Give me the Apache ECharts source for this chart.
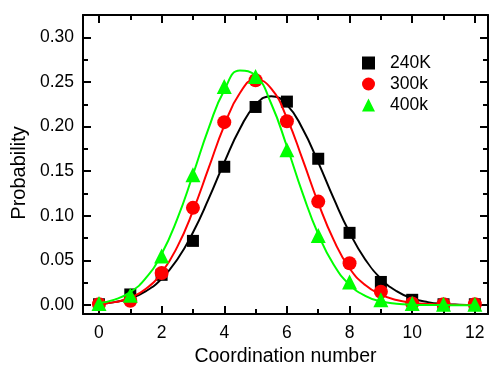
<!DOCTYPE html>
<html><head><meta charset="utf-8">
<script src="https://cdn.jsdelivr.net/npm/echarts@6/dist/echarts.min.js"></script>
<style>html,body{margin:0;padding:0;background:#fff}#c{width:489px;height:372px}</style>
</head><body><div id="c"></div>
<script>
// ---- data ----
const coordination = [0,1,2,3,4,5,6,7,8,9,10,11,12];
const p240 = [0.001,0.012,0.034,0.072,0.155,0.222,0.228,0.164,0.081,0.026,0.006,0.001,0.001];
const p300 = [0.001,0.005,0.036,0.109,0.205,0.252,0.206,0.116,0.047,0.015,0.002,0.001,0.001];
const p400 = [0.002,0.011,0.055,0.146,0.245,0.256,0.174,0.078,0.026,0.006,0.002,0.001,0.001];
// fitted curves, read at half-unit steps
const fitX = [0,0.5,1,1.5,2,2.5,3,3.5,4,4.5,5,5.5,6,6.5,7,7.5,8,8.5,9,9.5,10,10.5,11,11.5,12];
const fit240 = [0.0014,0.0034,0.0077,0.0157,0.0296,0.0512,0.0814,0.119,0.160,0.1976,0.2243,0.234,0.2243,0.1976,0.160,0.119,0.0814,0.0512,0.0296,0.0157,0.0077,0.0034,0.0014,0.0005,0.0002];
const fit300 = [0.0013,0.0034,0.0083,0.0183,0.0364,0.0653,0.1055,0.1534,0.2011,0.2376,0.2528,0.2425,0.2096,0.1633,0.1146,0.0725,0.0413,0.0225,0.0118,0.0058,0.0028,0.0013,0.0006,0.0003,0.0001];
const fit400 = [0.0024,0.0062,0.0146,0.0305,0.0574,0.0967,0.1461,0.198,0.2408,0.2627,0.2571,0.2256,0.1777,0.1255,0.0795,0.0451,0.0230,0.0105,0.0043,0.0016,0.0005,0.0002,0.0001,0,0];
const xMajor = [0,2,4,6,8,10,12];
const xMinor = [1,3,5,7,9,11];
const yMajor = [0,0.05,0.10,0.15,0.20,0.25,0.30];
const yMinor = [0.025,0.075,0.125,0.175,0.225,0.275];
const seriesNames = ['240K','300k','400k'];

const FONT = '"Liberation Sans", Arial, sans-serif';
const X_MIN = -0.51, X_MAX = 12.42, Y_MIN = -0.01, Y_MAX = 0.325;

function xAxis(position, ticks, len, showLine, showLabel, extra) {
  return Object.assign({
    type: 'value', position, min: X_MIN, max: X_MAX, gridIndex: 0,
    splitLine: {show: false},
    axisLine: {show: showLine, onZero: false, lineStyle: {color: '#000', width: 2}},
    axisTick: {show: true, inside: true, length: len, customValues: ticks, lineStyle: {color: '#000', width: 2}},
    axisLabel: {show: showLabel, customValues: ticks, margin: 10, color: '#000', fontFamily: FONT, fontSize: 17.5}
  }, extra || {});
}
function yAxis(position, ticks, len, showLine, showLabel) {
  return {
    type: 'value', position, min: Y_MIN, max: Y_MAX, gridIndex: 0,
    splitLine: {show: false},
    axisLine: {show: showLine, onZero: false, lineStyle: {color: '#000', width: 2}},
    axisTick: {show: true, inside: true, length: len, customValues: ticks, lineStyle: {color: '#000', width: 2}},
    axisLabel: {show: showLabel, customValues: ticks, margin: 9, color: '#000', fontFamily: FONT, fontSize: 17.5,
      formatter: v => v.toFixed(2)}
  };
}

const chart = echarts.init(document.getElementById('c'), null, {renderer: 'canvas'});
const colors = ['#000000', '#ff0000', '#00ff00'];
const symbols = ['rect', 'circle', 'triangle'];
const symSizes = [12, 14, 15];
const pts = [p240, p300, p400];
const fits = [fit240, fit300, fit400];
const series = [];
for (let i = 0; i < 3; i++) {
  series.push({
    name: seriesNames[i] + ' fit', type: 'line', smooth: true, showSymbol: false, symbol: 'none',
    data: fitX.map((x, k) => [x, fits[i][k]]),
    lineStyle: {color: colors[i], width: 2}, itemStyle: {color: colors[i]}, z: 2 + i * 2,
    silent: true, animation: false
  });
  series.push({
    name: seriesNames[i], type: 'scatter', symbol: symbols[i], symbolSize: symSizes[i],
    data: coordination.map((x, k) => [x, pts[i][k]]),
    itemStyle: {color: colors[i], opacity: 1}, z: 3 + i * 2, animation: false
  });
}

chart.setOption({
  animation: false,
  backgroundColor: '#fff',
  grid: {left: 83, right: 1, top: 15, bottom: 56, containLabel: false},
  xAxis: [
    xAxis('bottom', xMajor, 8, true, true, {name: 'Coordination number', nameLocation: 'middle', nameGap: 31,
      nameTextStyle: {color: '#000', fontFamily: FONT, fontSize: 19.5}}),
    xAxis('bottom', xMinor, 5, false, false),
    xAxis('top', xMajor, 8, true, false),
    xAxis('top', xMinor, 5, false, false)
  ],
  yAxis: [
    yAxis('left', yMajor, 8, true, true),
    yAxis('left', yMinor, 5, false, false),
    yAxis('right', yMajor, 8, true, false),
    yAxis('right', yMinor, 5, false, false)
  ],
  legend: {
    orient: 'vertical', left: 357, top: 49, itemWidth: 13, itemHeight: 13, itemGap: 3,
    textStyle: {color: '#000', fontFamily: FONT, fontSize: 17.5, padding: [0, 0, 0, 10]},
    data: [
      {name: '240K', icon: 'rect'},
      {name: '300k', icon: 'circle'},
      {name: '400k', icon: 'triangle'}
    ]
  },
  graphic: [{
    type: 'text', x: 19, y: 173, rotation: Math.PI / 2,
    style: {text: 'Probability', fill: '#000', font: '20px ' + FONT, textAlign: 'center', textVerticalAlign: 'middle'}
  }],
  series
});
</script></body></html>
